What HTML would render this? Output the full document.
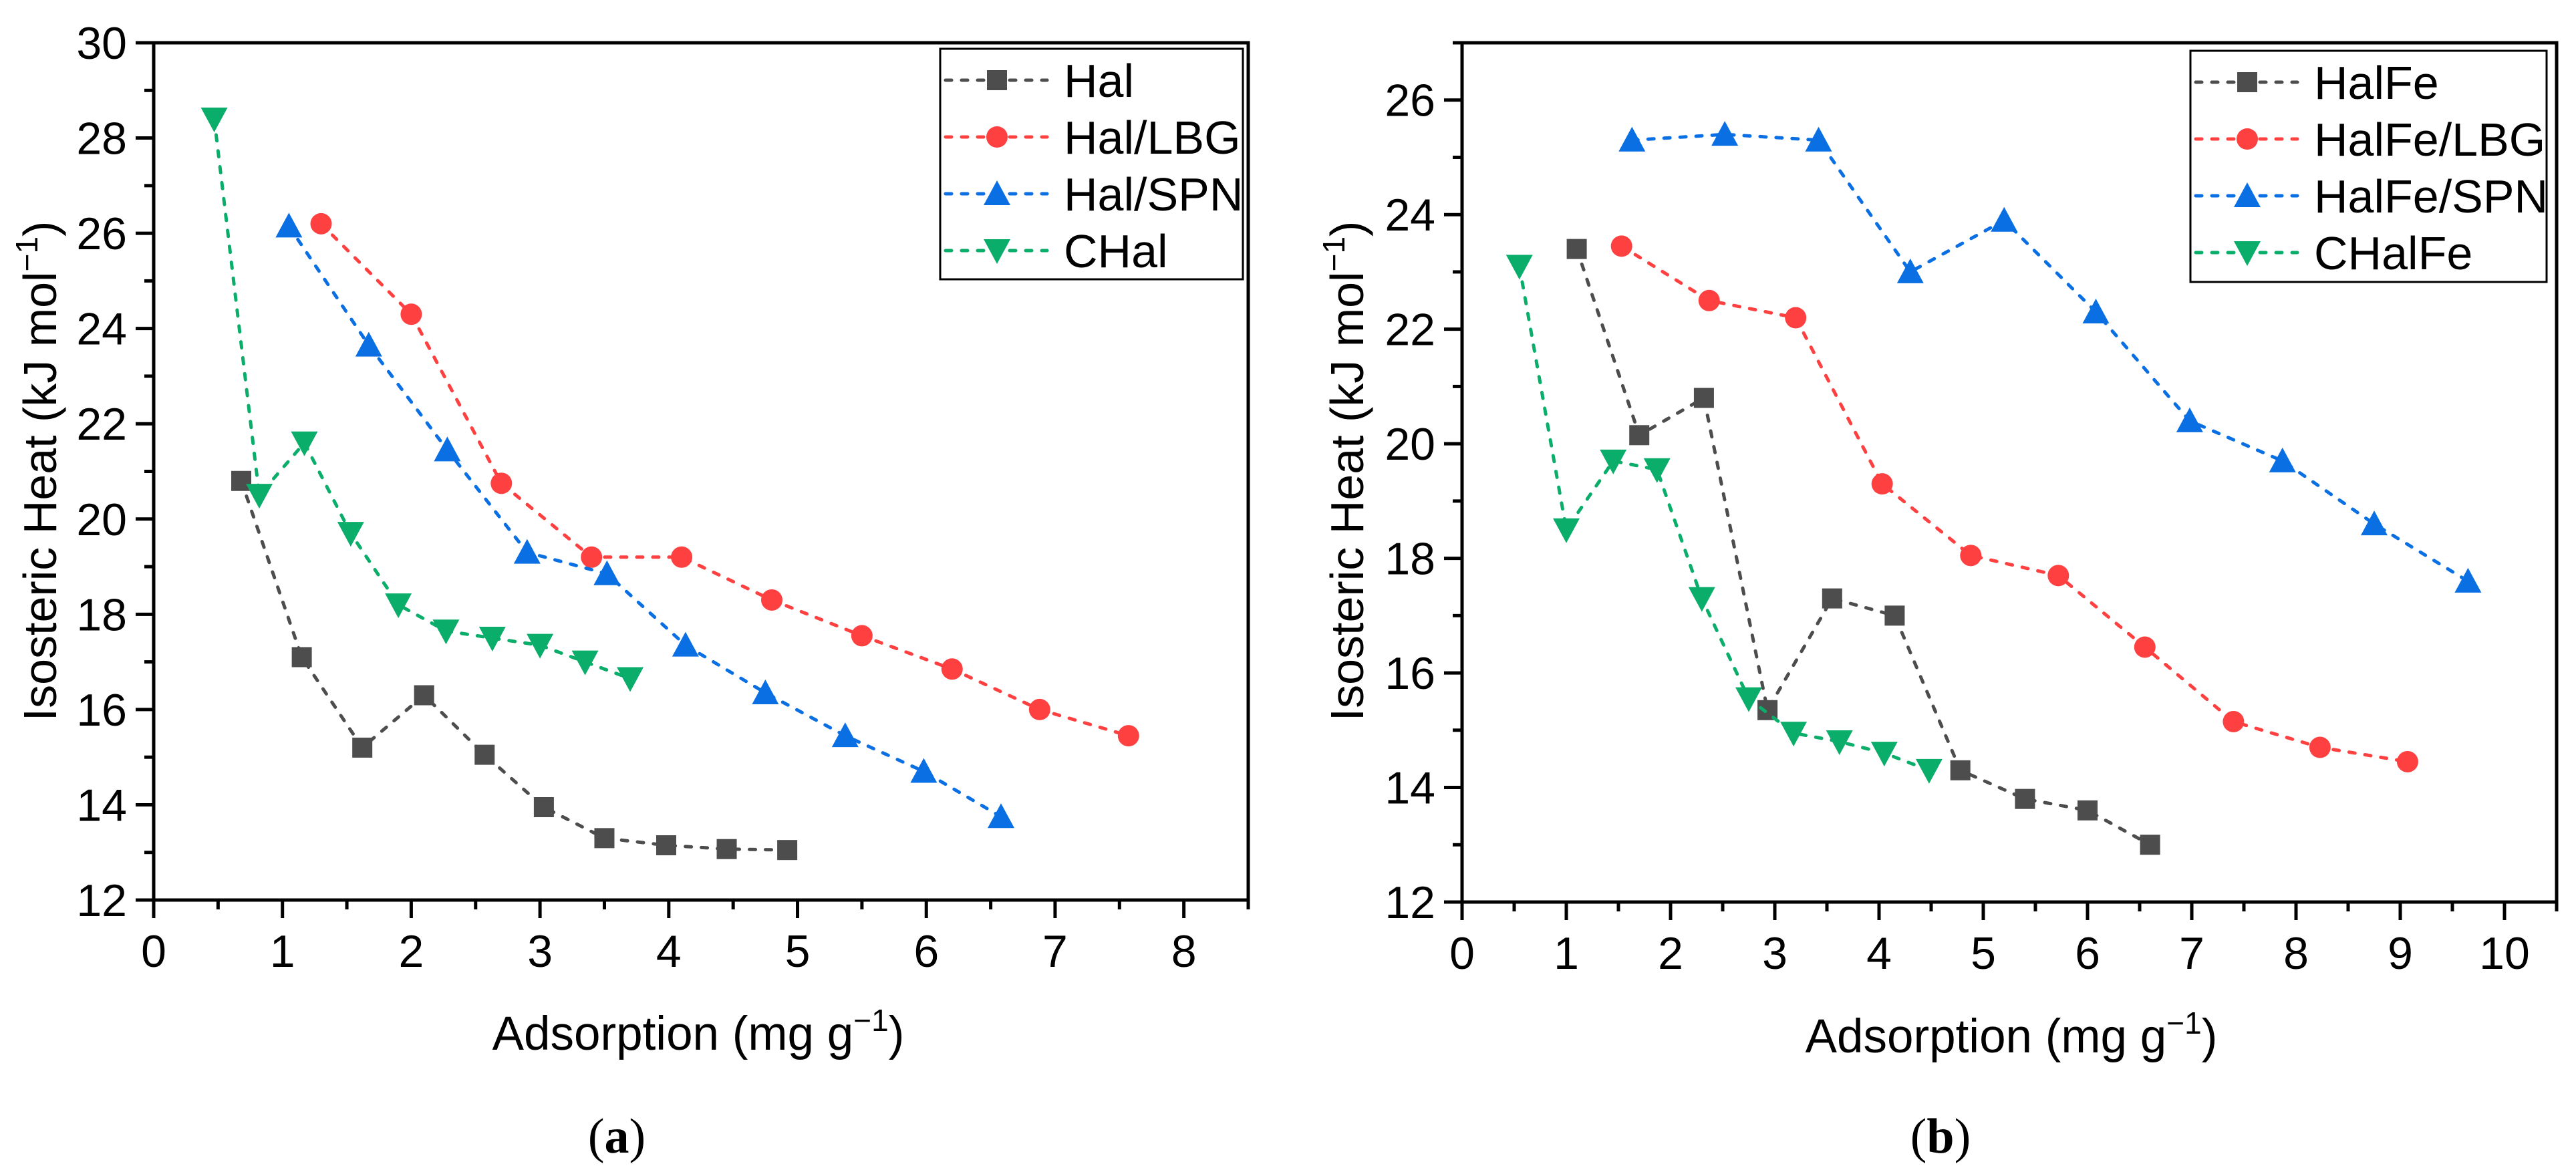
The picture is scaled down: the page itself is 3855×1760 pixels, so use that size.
<!DOCTYPE html>
<html><head><meta charset="utf-8"><style>
html,body{margin:0;padding:0;background:#fff;}
svg{display:block;font-family:"Liberation Sans",Arial,sans-serif;}
</style></head><body>
<svg id="fig" width="3855" height="1760" viewBox="0 0 3855 1760" xmlns="http://www.w3.org/2000/svg"></svg>
<script>
// ---- Panel (a) data ----
const aSeriesNames = ["Hal","Hal/LBG","Hal/SPN","CHal"];
const aHalX = [0.68,1.15,1.62,2.1,2.57,3.03,3.5,3.98,4.45,4.92];
const aHalY = [20.8,17.1,15.2,16.3,15.05,13.95,13.3,13.15,13.07,13.05];
const aLbgX = [1.3,2.0,2.7,3.4,4.1,4.8,5.5,6.2,6.88,7.57];
const aLbgY = [26.2,24.3,20.75,19.2,19.2,18.3,17.55,16.85,16.0,15.45];
const aSpnX = [1.05,1.67,2.28,2.9,3.52,4.13,4.75,5.37,5.98,6.58];
const aSpnY = [26.15,23.65,21.45,19.3,18.85,17.35,16.35,15.45,14.7,13.75];
const aCHalX = [0.47,0.82,1.17,1.53,1.9,2.27,2.63,3.0,3.35,3.7];
const aCHalY = [28.4,20.5,21.6,19.7,18.2,17.65,17.5,17.35,17.0,16.65];
const aXTicks = [0,1,2,3,4,5,6,7,8];
const aYTicks = [12,14,16,18,20,22,24,26,28,30];
// ---- Panel (b) data ----
const bSeriesNames = ["HalFe","HalFe/LBG","HalFe/SPN","CHalFe"];
const bHalX = [1.1,1.7,2.32,2.93,3.55,4.15,4.78,5.4,6.0,6.6];
const bHalY = [23.4,20.15,20.8,15.35,17.3,17.0,14.3,13.8,13.6,13.0];
const bLbgX = [1.53,2.37,3.2,4.03,4.88,5.72,6.55,7.4,8.23,9.07];
const bLbgY = [23.45,22.5,22.2,19.3,18.05,17.7,16.45,15.15,14.7,14.45];
const bSpnX = [1.63,2.52,3.42,4.3,5.2,6.08,6.98,7.87,8.75,9.65];
const bSpnY = [25.3,25.4,25.3,23.0,23.9,22.3,20.4,19.7,18.6,17.6];
const bCHalX = [0.55,1.0,1.45,1.87,2.3,2.75,3.18,3.62,4.05,4.48];
const bCHalY = [23.1,18.5,19.7,19.55,17.3,15.55,14.95,14.8,14.6,14.3];
const bXTicks = [0,1,2,3,4,5,6,7,8,9,10];
const bYTicks = [12,14,16,18,20,22,24,26];

const NS="http://www.w3.org/2000/svg";
const svg=document.getElementById('fig');
const COLORS=["#4d4d4d","#ff4040","#0a6fe3","#0bad6a"];
const SHAPES=["square","circle","tri","dtri"];
function mk(tag,attrs,parent){const e=document.createElementNS(NS,tag);for(const k in attrs)e.setAttribute(k,attrs[k]);(parent||svg).appendChild(e);return e;}
function marker(shape,cx,cy,col,g){
  let e;
  if(shape==="square") e=mk('rect',{x:cx-15,y:cy-15,width:30,height:30,fill:col},g);
  else if(shape==="circle") e=mk('circle',{cx:cx,cy:cy,r:16,fill:col},g);
  else if(shape==="tri") e=mk('polygon',{points:`${cx-20},${cy+17} ${cx+20},${cy+17} ${cx},${cy-20}`,fill:col},g);
  else e=mk('polygon',{points:`${cx-20},${cy-17} ${cx+20},${cy-17} ${cx},${cy+20}`,fill:col},g);
  return e;
}
function panel(cfg){
  const {L,R,T,B,xmin,xmax,ymin,ymax,xt,yt,series,names,legend,id}=cfg;
  const sx=v=>L+(v-xmin)/(xmax-xmin)*(R-L);
  const sy=v=>B-(v-ymin)/(ymax-ymin)*(B-T);
  const g=mk('g',{});
  
  
  series.forEach((s,i)=>{
    const sg=mk('g',{},g);
    
    
    const pts=s[0].map((x,j)=>sx(x)+','+sy(s[1][j])).join(' ');
    const pl=mk('polyline',{points:pts,fill:'none',stroke:COLORS[i],'stroke-width':5,'stroke-dasharray':'9 15','stroke-linecap':'round'},sg);
    
    
    s[0].forEach((x,j)=>{
      const m=marker(SHAPES[i],sx(x),sy(s[1][j]),COLORS[i],sg);
      
      
    });
  });
  const fr=mk('rect',{x:L,y:T,width:R-L,height:B-T,fill:'none',stroke:'#000','stroke-width':5},g);
  
  
  for(let v=xmin;v<=xmax+1e-9;v+=0.5){
    const major=Math.abs(v-Math.round(v))<1e-9;
    mk('line',{x1:sx(v),x2:sx(v),y1:B,y2:B+(major?27:14),stroke:'#000','stroke-width':5},g);
  }
  xt.forEach(v=>{
    const t=mk('text',{x:sx(v),y:B+100,'font-size':68,'text-anchor':'middle',fill:'#000'},g);
    t.textContent=v;
    
    
  });
  for(let v=ymin;v<=ymax+1e-9;v+=1){
    const major=(v%2===0);
    mk('line',{x1:L,x2:L-(major?27:14),y1:sy(v),y2:sy(v),stroke:'#000','stroke-width':5},g);
  }
  yt.forEach(v=>{
    const t=mk('text',{x:L-40,y:sy(v)+24,'font-size':68,'text-anchor':'end',fill:'#000'},g);
    t.textContent=v;
    
    
  });
  const lg=mk('g',{},g);
  
  
  mk('rect',{x:legend.x,y:legend.y,width:legend.w,height:legend.h,fill:'#fff',stroke:'#000','stroke-width':3},lg);
  names.forEach((n,i)=>{
    const ey=legend.y+47+i*85;
    const eg=mk('g',{},lg);
    
    
    mk('line',{x1:legend.x+8,x2:legend.x+160,y1:ey,y2:ey,stroke:COLORS[i],'stroke-width':5,'stroke-dasharray':'9 15','stroke-linecap':'round'},eg);
    marker(SHAPES[i],legend.x+85,ey,COLORS[i],eg);
    const t=mk('text',{x:legend.x+185,y:ey+25,'font-size':70,fill:'#000'},eg);
    t.textContent=n;
  });
  return {sx,sy};
}
panel({id:'panel-a',L:230,R:1868,T:64,B:1347,xmin:0,xmax:8.5,ymin:12,ymax:30,xt:aXTicks,yt:aYTicks,
  series:[[aHalX,aHalY],[aLbgX,aLbgY],[aSpnX,aSpnY],[aCHalX,aCHalY]],names:aSeriesNames,
  legend:{x:1407,y:73,w:453,h:345}});
panel({id:'panel-b',L:2188,R:3826,T:64,B:1350,xmin:0,xmax:10.5,ymin:12,ymax:27,xt:bXTicks,yt:bYTicks,
  series:[[bHalX,bHalY],[bLbgX,bLbgY],[bSpnX,bSpnY],[bCHalX,bCHalY]],names:bSeriesNames,
  legend:{x:3278,y:76,w:533,h:346}});
</script>
<script>
(function(){
const NS="http://www.w3.org/2000/svg";const svg=document.getElementById('fig');
function txt(x,y,html,attrs,name){const t=document.createElementNS(NS,'text');t.setAttribute('x',x);t.setAttribute('y',y);for(const k in attrs)t.setAttribute(k,attrs[k]);t.innerHTML=html;svg.appendChild(t);


return t;}
const sup='<tspan dy="-28" font-size="46">−1</tspan><tspan dy="28">)</tspan>';
txt(1045,1571,'Adsorption (mg g'+sup,{'font-size':71,'text-anchor':'middle'},'x-axis-title-a');
txt(3010,1575,'Adsorption (mg g'+sup,{'font-size':71,'text-anchor':'middle'},'x-axis-title-b');
txt(84,705,'Isosteric Heat (kJ mol'+sup,{'font-size':70,'text-anchor':'middle',transform:'rotate(-90 84 705)'},'y-axis-title-a');
txt(2040,705,'Isosteric Heat (kJ mol'+sup,{'font-size':70,'text-anchor':'middle',transform:'rotate(-90 2040 705)'},'y-axis-title-b');
txt(923,1725,'(<tspan font-weight="bold">a</tspan>)',{'font-size':74,'text-anchor':'middle','font-family':'"Liberation Serif",serif'},'panel-label-a');
txt(2904,1725,'(<tspan font-weight="bold">b</tspan>)',{'font-size':74,'text-anchor':'middle','font-family':'"Liberation Serif",serif'},'panel-label-b');
})();
</script>
</body></html>
